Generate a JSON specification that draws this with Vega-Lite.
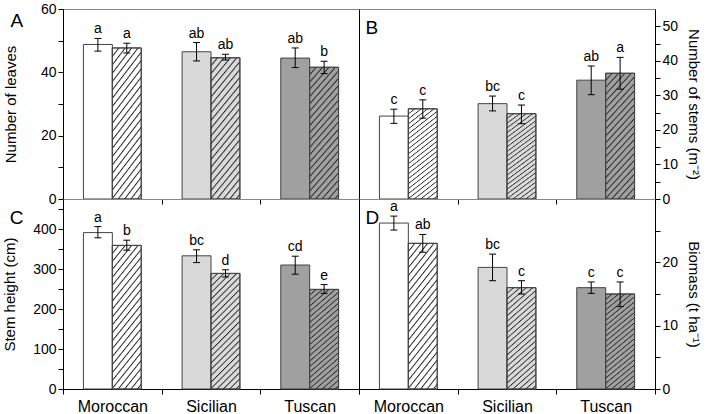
{
  "$schema": "https://vega.github.io/schema/vega-lite/v6.json",
  "padding": {"left": 2, "top": 1, "right": 0, "bottom": 0},
  "background": "white",
  "data": {"values": [
    {"panel": "A", "cultivar": "Moroccan", "trt": "solid", "v": 48.8, "lo": 46.7, "hi": 50.7, "lab": "a"},
    {"panel": "A", "cultivar": "Moroccan", "trt": "hatched", "v": 47.7, "lo": 46.1, "hi": 49.2, "lab": "a"},
    {"panel": "A", "cultivar": "Sicilian", "trt": "solid", "v": 46.5, "lo": 43.6, "hi": 49.4, "lab": "ab"},
    {"panel": "A", "cultivar": "Sicilian", "trt": "hatched", "v": 44.6, "lo": 43.9, "hi": 45.7, "lab": "ab"},
    {"panel": "A", "cultivar": "Tuscan", "trt": "solid", "v": 44.5, "lo": 41.5, "hi": 47.7, "lab": "ab"},
    {"panel": "A", "cultivar": "Tuscan", "trt": "hatched", "v": 41.6, "lo": 39.6, "hi": 43.5, "lab": "b"},
    {"panel": "B", "cultivar": "Moroccan", "trt": "solid", "v": 24.0, "lo": 21.9, "hi": 26.0, "lab": "c"},
    {"panel": "B", "cultivar": "Moroccan", "trt": "hatched", "v": 26.1, "lo": 23.4, "hi": 28.7, "lab": "c"},
    {"panel": "B", "cultivar": "Sicilian", "trt": "solid", "v": 27.6, "lo": 25.5, "hi": 29.8, "lab": "bc"},
    {"panel": "B", "cultivar": "Sicilian", "trt": "hatched", "v": 24.7, "lo": 21.8, "hi": 27.2, "lab": "c"},
    {"panel": "B", "cultivar": "Tuscan", "trt": "solid", "v": 34.4, "lo": 30.2, "hi": 38.5, "lab": "ab"},
    {"panel": "B", "cultivar": "Tuscan", "trt": "hatched", "v": 36.4, "lo": 31.8, "hi": 41.0, "lab": "a"},
    {"panel": "C", "cultivar": "Moroccan", "trt": "solid", "v": 391, "lo": 378, "hi": 406, "lab": "a"},
    {"panel": "C", "cultivar": "Moroccan", "trt": "hatched", "v": 359, "lo": 347, "hi": 372, "lab": "b"},
    {"panel": "C", "cultivar": "Sicilian", "trt": "solid", "v": 333, "lo": 316, "hi": 348, "lab": "bc"},
    {"panel": "C", "cultivar": "Sicilian", "trt": "hatched", "v": 289, "lo": 280, "hi": 298, "lab": "d"},
    {"panel": "C", "cultivar": "Tuscan", "trt": "solid", "v": 310, "lo": 287, "hi": 332, "lab": "cd"},
    {"panel": "C", "cultivar": "Tuscan", "trt": "hatched", "v": 249, "lo": 239, "hi": 261, "lab": "e"},
    {"panel": "D", "cultivar": "Moroccan", "trt": "solid", "v": 26.2, "lo": 25.1, "hi": 27.3, "lab": "a"},
    {"panel": "D", "cultivar": "Moroccan", "trt": "hatched", "v": 23.0, "lo": 21.6, "hi": 24.4, "lab": "ab"},
    {"panel": "D", "cultivar": "Sicilian", "trt": "solid", "v": 19.2, "lo": 17.1, "hi": 21.3, "lab": "bc"},
    {"panel": "D", "cultivar": "Sicilian", "trt": "hatched", "v": 16.0, "lo": 15.0, "hi": 17.1, "lab": "c"},
    {"panel": "D", "cultivar": "Tuscan", "trt": "solid", "v": 16.0, "lo": 15.1, "hi": 16.9, "lab": "c"},
    {"panel": "D", "cultivar": "Tuscan", "trt": "hatched", "v": 15.0, "lo": 13.0, "hi": 16.9, "lab": "c"}
  ]},
  "columns": 2,
  "spacing": 0,
  "bounds": "flush",
  "concat": [
    {
      "width": 296, "height": 190,
      "title": {"text": "A"},
      "transform": [{"filter": "datum.panel == 'A'"}],
      "encoding": {
        "x": {"field": "cultivar", "type": "nominal", "sort": ["Moroccan", "Sicilian", "Tuscan"], "scale": {"paddingInner": 0, "paddingOuter": 0}, "axis": {"title": null, "labels": false, "tickBand": "extent"}},
        "xOffset": {"field": "trt", "type": "nominal", "sort": ["solid", "hatched"], "scale": {"paddingInner": 0, "paddingOuter": 0.707}}
      },
      "layer": [
        {"mark": {"type": "bar", "stroke": "#444444", "strokeWidth": 1},
         "encoding": {
           "y": {"field": "v", "type": "quantitative", "scale": {"domain": [0, 60], "nice": false}, "axis": {"orient": "left", "title": "Number of leaves", "values": [0, 10, 20, 30, 40, 50, 60], "labelExpr": "datum.value % 20 == 0 ? datum.label : ''", "titlePadding": 22}},
           "fill": {"field": "cultivar", "type": "nominal", "scale": {"domain": ["Moroccan", "Sicilian", "Tuscan"], "range": ["#ffffff", "#d9d9d9", "#a0a0a0"]}, "legend": null}}},
        {"transform": [{"filter": "datum.trt == 'hatched'"}],
         "mark": {"type": "bar", "stroke": "#444444", "strokeWidth": 1},
         "encoding": {"y": {"field": "v", "type": "quantitative", "scale": {"domain": [0, 60], "nice": false}, "axis": {"orient": "right", "title": null, "labels": false, "ticks": false, "domain": false}}}},
        {"mark": {"type": "rule", "color": "black", "strokeWidth": 1},
         "encoding": {"y": {"field": "lo", "type": "quantitative", "scale": {"domain": [0, 60], "nice": false}, "axis": null}, "y2": {"field": "hi"}}},
        {"mark": {"type": "tick", "color": "black", "size": 7, "thickness": 1, "opacity": 1},
         "encoding": {"y": {"field": "lo", "type": "quantitative", "scale": {"domain": [0, 60], "nice": false}, "axis": null}}},
        {"mark": {"type": "tick", "color": "black", "size": 7, "thickness": 1, "opacity": 1},
         "encoding": {"y": {"field": "hi", "type": "quantitative", "scale": {"domain": [0, 60], "nice": false}, "axis": null}}},
        {"mark": {"type": "text", "baseline": "alphabetic", "dy": -5, "fontSize": 14},
         "encoding": {"y": {"field": "hi", "type": "quantitative", "scale": {"domain": [0, 60], "nice": false}, "axis": null}, "text": {"field": "lab"}}}
      ]
    },
    {
      "width": 296, "height": 190,
      "title": {"text": "B"},
      "transform": [{"filter": "datum.panel == 'B'"}],
      "encoding": {
        "x": {"field": "cultivar", "type": "nominal", "sort": ["Moroccan", "Sicilian", "Tuscan"], "scale": {"paddingInner": 0, "paddingOuter": 0}, "axis": {"title": null, "labels": false, "tickBand": "extent"}},
        "xOffset": {"field": "trt", "type": "nominal", "sort": ["solid", "hatched"], "scale": {"paddingInner": 0, "paddingOuter": 0.707}}
      },
      "layer": [
        {"mark": {"type": "bar", "stroke": "#444444", "strokeWidth": 1},
         "encoding": {
           "y": {"field": "v", "type": "quantitative", "scale": {"domain": [0, 55], "nice": false}, "axis": {"orient": "right", "title": "Number of stems (m⁻²)", "values": [0, 5, 10, 15, 20, 25, 30, 35, 40, 45, 50], "labelExpr": "datum.value % 10 == 0 ? datum.label : ''", "titlePadding": 8}},
           "fill": {"field": "cultivar", "type": "nominal", "scale": {"domain": ["Moroccan", "Sicilian", "Tuscan"], "range": ["#ffffff", "#d9d9d9", "#a0a0a0"]}, "legend": null}}},
        {"transform": [{"filter": "datum.trt == 'hatched'"}],
         "mark": {"type": "bar", "stroke": "#444444", "strokeWidth": 1},
         "encoding": {"y": {"field": "v", "type": "quantitative", "scale": {"domain": [0, 55], "nice": false}, "axis": {"orient": "left", "title": null, "labels": false, "ticks": false, "domain": true}}}},
        {"mark": {"type": "rule", "color": "black", "strokeWidth": 1},
         "encoding": {"y": {"field": "lo", "type": "quantitative", "scale": {"domain": [0, 55], "nice": false}, "axis": null}, "y2": {"field": "hi"}}},
        {"mark": {"type": "tick", "color": "black", "size": 7, "thickness": 1, "opacity": 1},
         "encoding": {"y": {"field": "lo", "type": "quantitative", "scale": {"domain": [0, 55], "nice": false}, "axis": null}}},
        {"mark": {"type": "tick", "color": "black", "size": 7, "thickness": 1, "opacity": 1},
         "encoding": {"y": {"field": "hi", "type": "quantitative", "scale": {"domain": [0, 55], "nice": false}, "axis": null}}},
        {"mark": {"type": "text", "baseline": "alphabetic", "dy": -5, "fontSize": 14},
         "encoding": {"y": {"field": "hi", "type": "quantitative", "scale": {"domain": [0, 55], "nice": false}, "axis": null}, "text": {"field": "lab"}}}
      ]
    },
    {
      "width": 296, "height": 190,
      "title": {"text": "C"},
      "transform": [{"filter": "datum.panel == 'C'"}],
      "encoding": {
        "x": {"field": "cultivar", "type": "nominal", "sort": ["Moroccan", "Sicilian", "Tuscan"], "scale": {"paddingInner": 0, "paddingOuter": 0}, "axis": {"title": null, "tickBand": "extent"}},
        "xOffset": {"field": "trt", "type": "nominal", "sort": ["solid", "hatched"], "scale": {"paddingInner": 0, "paddingOuter": 0.707}}
      },
      "layer": [
        {"mark": {"type": "bar", "stroke": "#444444", "strokeWidth": 1},
         "encoding": {
           "y": {"field": "v", "type": "quantitative", "scale": {"domain": [0, 475], "nice": false}, "axis": {"orient": "left", "title": "Stem height (cm)", "values": [0, 50, 100, 150, 200, 250, 300, 350, 400, 450], "labelExpr": "datum.value % 100 == 0 ? datum.label : ''", "titlePadding": 15}},
           "fill": {"field": "cultivar", "type": "nominal", "scale": {"domain": ["Moroccan", "Sicilian", "Tuscan"], "range": ["#ffffff", "#d9d9d9", "#a0a0a0"]}, "legend": null}}},
        {"transform": [{"filter": "datum.trt == 'hatched'"}],
         "mark": {"type": "bar", "stroke": "#444444", "strokeWidth": 1},
         "encoding": {"y": {"field": "v", "type": "quantitative", "scale": {"domain": [0, 475], "nice": false}, "axis": {"orient": "right", "title": null, "labels": false, "ticks": false, "domain": false}}}},
        {"mark": {"type": "rule", "color": "black", "strokeWidth": 1},
         "encoding": {"y": {"field": "lo", "type": "quantitative", "scale": {"domain": [0, 475], "nice": false}, "axis": null}, "y2": {"field": "hi"}}},
        {"mark": {"type": "tick", "color": "black", "size": 7, "thickness": 1, "opacity": 1},
         "encoding": {"y": {"field": "lo", "type": "quantitative", "scale": {"domain": [0, 475], "nice": false}, "axis": null}}},
        {"mark": {"type": "tick", "color": "black", "size": 7, "thickness": 1, "opacity": 1},
         "encoding": {"y": {"field": "hi", "type": "quantitative", "scale": {"domain": [0, 475], "nice": false}, "axis": null}}},
        {"mark": {"type": "text", "baseline": "alphabetic", "dy": -5, "fontSize": 14},
         "encoding": {"y": {"field": "hi", "type": "quantitative", "scale": {"domain": [0, 475], "nice": false}, "axis": null}, "text": {"field": "lab"}}}
      ]
    },
    {
      "width": 296, "height": 190,
      "title": {"text": "D"},
      "transform": [{"filter": "datum.panel == 'D'"}],
      "encoding": {
        "x": {"field": "cultivar", "type": "nominal", "sort": ["Moroccan", "Sicilian", "Tuscan"], "scale": {"paddingInner": 0, "paddingOuter": 0}, "axis": {"title": null, "tickBand": "extent"}},
        "xOffset": {"field": "trt", "type": "nominal", "sort": ["solid", "hatched"], "scale": {"paddingInner": 0, "paddingOuter": 0.707}}
      },
      "layer": [
        {"mark": {"type": "bar", "stroke": "#444444", "strokeWidth": 1},
         "encoding": {
           "y": {"field": "v", "type": "quantitative", "scale": {"domain": [0, 30], "nice": false}, "axis": {"orient": "right", "title": "Biomass (t ha⁻¹)", "values": [0, 5, 10, 15, 20, 25], "labelExpr": "datum.value % 10 == 0 ? datum.label : ''", "titlePadding": 8}},
           "fill": {"field": "cultivar", "type": "nominal", "scale": {"domain": ["Moroccan", "Sicilian", "Tuscan"], "range": ["#ffffff", "#d9d9d9", "#a0a0a0"]}, "legend": null}}},
        {"transform": [{"filter": "datum.trt == 'hatched'"}],
         "mark": {"type": "bar", "stroke": "#444444", "strokeWidth": 1},
         "encoding": {"y": {"field": "v", "type": "quantitative", "scale": {"domain": [0, 30], "nice": false}, "axis": {"orient": "left", "title": null, "labels": false, "ticks": false, "domain": true}}}},
        {"mark": {"type": "rule", "color": "black", "strokeWidth": 1},
         "encoding": {"y": {"field": "lo", "type": "quantitative", "scale": {"domain": [0, 30], "nice": false}, "axis": null}, "y2": {"field": "hi"}}},
        {"mark": {"type": "tick", "color": "black", "size": 7, "thickness": 1, "opacity": 1},
         "encoding": {"y": {"field": "lo", "type": "quantitative", "scale": {"domain": [0, 30], "nice": false}, "axis": null}}},
        {"mark": {"type": "tick", "color": "black", "size": 7, "thickness": 1, "opacity": 1},
         "encoding": {"y": {"field": "hi", "type": "quantitative", "scale": {"domain": [0, 30], "nice": false}, "axis": null}}},
        {"mark": {"type": "text", "baseline": "alphabetic", "dy": -5, "fontSize": 14},
         "encoding": {"y": {"field": "hi", "type": "quantitative", "scale": {"domain": [0, 30], "nice": false}, "axis": null}, "text": {"field": "lab"}}}
      ]
    }
  ],
  "config": {
    "font": "Liberation Sans",
    "view": {"stroke": "#888888", "strokeWidth": 1},
    "title": {"fontSize": 19, "fontWeight": "normal", "anchor": "start", "offset": -29, "dx": 7, "color": "black"},
    "axis": {"domainColor": "black", "tickColor": "black", "labelColor": "black", "titleColor": "black", "labelFontSize": 14, "titleFontSize": 15, "titleFontWeight": "normal", "tickSize": 5, "labelPadding": 2, "grid": false, "domainWidth": 1, "tickWidth": 1},
    "axisX": {"labelFontSize": 16, "labelAngle": 0, "labelPadding": 4},
    "bar": {
      "fill": {
        "gradient": "linear", "x1": 0, "y1": 0, "x2": 1, "y2": 4,
        "stops": [
          {"offset": 0, "color": "#222222"}, {"offset": 0.003, "color": "rgba(34,34,34,0)"}, {"offset": 0.011, "color": "rgba(34,34,34,0)"},
          {"offset": 0.013, "color": "#222222"}, {"offset": 0.016, "color": "rgba(34,34,34,0)"}, {"offset": 0.024, "color": "rgba(34,34,34,0)"},
          {"offset": 0.026, "color": "#222222"}, {"offset": 0.029, "color": "rgba(34,34,34,0)"}, {"offset": 0.037, "color": "rgba(34,34,34,0)"},
          {"offset": 0.039, "color": "#222222"}, {"offset": 0.042, "color": "rgba(34,34,34,0)"}, {"offset": 0.05, "color": "rgba(34,34,34,0)"},
          {"offset": 0.052, "color": "#222222"}, {"offset": 0.055, "color": "rgba(34,34,34,0)"}, {"offset": 0.063, "color": "rgba(34,34,34,0)"},
          {"offset": 0.065, "color": "#222222"}, {"offset": 0.068, "color": "rgba(34,34,34,0)"}, {"offset": 0.076, "color": "rgba(34,34,34,0)"},
          {"offset": 0.078, "color": "#222222"}, {"offset": 0.081, "color": "rgba(34,34,34,0)"}, {"offset": 0.089, "color": "rgba(34,34,34,0)"},
          {"offset": 0.091, "color": "#222222"}, {"offset": 0.094, "color": "rgba(34,34,34,0)"}, {"offset": 0.102, "color": "rgba(34,34,34,0)"},
          {"offset": 0.104, "color": "#222222"}, {"offset": 0.107, "color": "rgba(34,34,34,0)"}, {"offset": 0.115, "color": "rgba(34,34,34,0)"},
          {"offset": 0.117, "color": "#222222"}, {"offset": 0.12, "color": "rgba(34,34,34,0)"}, {"offset": 0.128, "color": "rgba(34,34,34,0)"},
          {"offset": 0.13, "color": "#222222"}, {"offset": 0.133, "color": "rgba(34,34,34,0)"}, {"offset": 0.141, "color": "rgba(34,34,34,0)"},
          {"offset": 0.143, "color": "#222222"}, {"offset": 0.146, "color": "rgba(34,34,34,0)"}, {"offset": 0.154, "color": "rgba(34,34,34,0)"},
          {"offset": 0.156, "color": "#222222"}, {"offset": 0.159, "color": "rgba(34,34,34,0)"}, {"offset": 0.167, "color": "rgba(34,34,34,0)"},
          {"offset": 0.169, "color": "#222222"}, {"offset": 0.172, "color": "rgba(34,34,34,0)"}, {"offset": 0.18, "color": "rgba(34,34,34,0)"},
          {"offset": 0.182, "color": "#222222"}, {"offset": 0.185, "color": "rgba(34,34,34,0)"}, {"offset": 0.193, "color": "rgba(34,34,34,0)"},
          {"offset": 0.195, "color": "#222222"}, {"offset": 0.198, "color": "rgba(34,34,34,0)"}, {"offset": 0.206, "color": "rgba(34,34,34,0)"},
          {"offset": 0.208, "color": "#222222"}, {"offset": 0.211, "color": "rgba(34,34,34,0)"}, {"offset": 0.219, "color": "rgba(34,34,34,0)"},
          {"offset": 0.221, "color": "#222222"}, {"offset": 0.224, "color": "rgba(34,34,34,0)"}, {"offset": 0.232, "color": "rgba(34,34,34,0)"},
          {"offset": 0.234, "color": "#222222"}, {"offset": 0.237, "color": "rgba(34,34,34,0)"}, {"offset": 0.245, "color": "rgba(34,34,34,0)"},
          {"offset": 0.247, "color": "#222222"}, {"offset": 0.25, "color": "rgba(34,34,34,0)"}, {"offset": 0.258, "color": "rgba(34,34,34,0)"},
          {"offset": 0.26, "color": "#222222"}, {"offset": 0.263, "color": "rgba(34,34,34,0)"}, {"offset": 0.271, "color": "rgba(34,34,34,0)"},
          {"offset": 0.273, "color": "#222222"}, {"offset": 0.276, "color": "rgba(34,34,34,0)"}, {"offset": 0.284, "color": "rgba(34,34,34,0)"},
          {"offset": 0.286, "color": "#222222"}, {"offset": 0.289, "color": "rgba(34,34,34,0)"}, {"offset": 0.297, "color": "rgba(34,34,34,0)"},
          {"offset": 0.299, "color": "#222222"}, {"offset": 0.302, "color": "rgba(34,34,34,0)"}
        ]
      }
    }
  }
}
